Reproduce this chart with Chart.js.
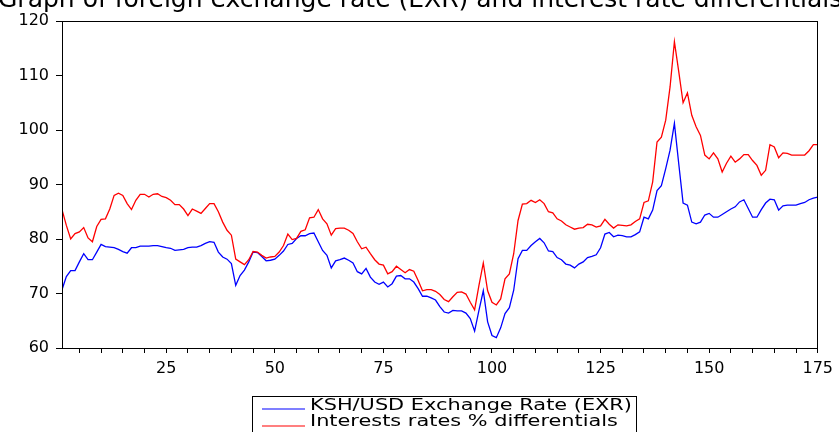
<!DOCTYPE html>
<html>
<head>
<meta charset="utf-8">
<script src="https://cdn.jsdelivr.net/npm/chart.js@4.4.1/dist/chart.umd.min.js"></script>
<style>
  html, body { margin: 0; padding: 0; background: #fff; }
  #exrChart { display: block; }
</style>
</head>
<body>
<canvas id="exrChart" width="839" height="432"></canvas>
<script>
// period index 1..175
const periods = [];
for (let i = 1; i <= 175; i++) periods.push(i);

const seriesNames = ["KSH/USD Exchange Rate (EXR)", "Interests rates % differentials"];
const yTicks = [60, 70, 80, 90, 100, 110, 120];
const xTickLabels = [25, 50, 75, 100, 125, 150, 175];

const exr = [
  70.7, 73.1, 74.2, 74.2, 75.8, 77.3, 76.2, 76.2, 77.6, 79.0,
  78.6, 78.5, 78.4, 78.1, 77.7, 77.4, 78.4, 78.4, 78.7, 78.7,
  78.7, 78.8, 78.8, 78.6, 78.4, 78.3, 77.9, 78.0, 78.1, 78.4,
  78.5, 78.5, 78.8, 79.2, 79.5, 79.4, 77.6, 76.7, 76.3, 75.5,
  71.5, 73.3, 74.3, 75.8, 77.6, 77.5, 76.8, 76.0, 76.1, 76.3,
  77.0, 77.8, 79.0, 79.2, 80.1, 80.6, 80.6, 81.0, 81.1, 79.5,
  77.9, 77.0, 74.7, 76.0, 76.2, 76.5, 76.1, 75.6, 74.0, 73.6,
  74.6, 73.0, 72.1, 71.7, 72.1, 71.2, 71.8, 73.2, 73.3, 72.7,
  72.7, 72.1, 70.9, 69.5, 69.5, 69.2, 68.8, 67.6, 66.6, 66.4,
  66.9, 66.8, 66.8, 66.4, 65.4, 63.1, 66.9, 70.5, 64.8, 62.3,
  61.9, 63.7, 66.3, 67.4, 70.6, 76.4, 77.9, 77.9, 78.8, 79.5,
  80.1, 79.3, 77.8, 77.7, 76.6, 76.2, 75.4, 75.2, 74.7, 75.4,
  75.8, 76.6, 76.8, 77.1, 78.4, 80.9, 81.2, 80.4, 80.7, 80.6,
  80.4, 80.4, 80.8, 81.3, 84.0, 83.7, 85.3, 88.9, 89.8, 92.9,
  96.3, 101.2, 93.8, 86.6, 86.2, 83.1, 82.8, 83.1, 84.4, 84.7,
  84.0, 84.0, 84.5, 85.0, 85.5, 85.9, 86.8, 87.2, 85.6, 84.0,
  84.0, 85.4, 86.6, 87.3, 87.2, 85.3, 86.1, 86.2, 86.2, 86.2,
  86.5, 86.7, 87.2, 87.5, 87.7
];

const rateDiff = [
  85.4, 82.5, 80.0, 81.0, 81.3, 82.1, 80.2, 79.5, 82.3, 83.6,
  83.7, 85.5, 88.0, 88.4, 88.0, 86.5, 85.4, 87.1, 88.2, 88.2,
  87.7, 88.2, 88.3, 87.8, 87.6, 87.1, 86.3, 86.3, 85.5, 84.3,
  85.5, 85.1, 84.7, 85.6, 86.5, 86.5, 85.0, 83.1, 81.6, 80.7,
  76.3, 75.8, 75.3, 76.2, 77.7, 77.6, 77.0, 76.5, 76.7, 76.8,
  77.6, 78.8, 80.9, 79.9, 80.1, 81.4, 81.7, 83.9, 84.0, 85.4,
  83.7, 82.8, 80.7, 81.9, 82.0, 82.0, 81.6, 81.0, 79.5, 78.2,
  78.5, 77.3, 76.2, 75.4, 75.2, 73.6, 74.0, 75.0, 74.4, 73.8,
  74.4, 74.1, 72.4, 70.5, 70.7, 70.7, 70.4, 69.8, 68.9, 68.5,
  69.4, 70.2, 70.3, 69.9, 68.4, 67.0, 71.5, 75.6, 70.5, 68.4,
  67.9, 69.0, 72.7, 73.6, 77.3, 83.4, 86.4, 86.5, 87.1, 86.7,
  87.2, 86.5, 85.0, 84.8, 83.7, 83.3, 82.6, 82.2, 81.8, 82.0,
  82.1, 82.7, 82.6, 82.2, 82.4, 83.6, 82.7, 82.0, 82.6, 82.5,
  82.4, 82.6, 83.2, 83.7, 86.7, 87.0, 90.5, 97.8, 98.7, 101.8,
  107.9, 116.2, 110.7, 105.0, 106.8, 102.7, 100.6, 99.0, 95.4, 94.7,
  95.8, 94.7, 92.3, 93.9, 95.2, 94.1, 94.7, 95.5, 95.5, 94.4,
  93.5, 91.7, 92.6, 97.3, 96.9, 94.9, 95.8, 95.7, 95.4, 95.4,
  95.4, 95.4, 96.2, 97.3, 97.3
];

const tickFont = { family: "DejaVu Sans", size: 16 };

// title is cut off at the top of the picture
const titlePlugin = {
  id: "cutTitle",
  afterDraw(chart) {
    const ctx = chart.ctx;
    ctx.save();
    ctx.fillStyle = "#000";
    ctx.font = "25px 'DejaVu Sans'";
    ctx.textBaseline = "alphabetic";
    ctx.textAlign = "left";
    ctx.fillText("Graph of foreign exchange rate (EXR) and interest rate differentials", -2, 7);
    ctx.restore();
  }
};

// black box round the plot
const framePlugin = {
  id: "frame",
  afterDraw(chart) {
    const a = chart.chartArea;
    const ctx = chart.ctx;
    ctx.save();
    ctx.strokeStyle = "#000";
    ctx.lineWidth = 1;
    ctx.strokeRect(Math.round(a.left) + 0.5, Math.round(a.top) + 0.5,
      Math.round(a.right - a.left) - 1, Math.round(a.bottom - a.top));
    ctx.restore();
  }
};

// boxed legend under the x axis, text stretched wide like the original
const legendPlugin = {
  id: "boxLegend",
  afterDraw(chart) {
    const ctx = chart.ctx;
    const sets = [chart.data.datasets[1], chart.data.datasets[0]];
    ctx.save();
    ctx.strokeStyle = "#000";
    ctx.lineWidth = 1;
    ctx.strokeRect(252.5, 396.5, 384, 50);
    ctx.font = "15px 'DejaVu Sans'";
    ctx.textBaseline = "middle";
    const w = ctx.measureText(sets[0].label).width;
    const sx = 322 / w;
    const rows = [[409, 406.5], [426, 422.5]];
    sets.forEach((ds, i) => {
      ctx.strokeStyle = ds.borderColor;
      ctx.lineWidth = 1.2;
      ctx.beginPath();
      ctx.moveTo(262, rows[i][0]);
      ctx.lineTo(305, rows[i][0]);
      ctx.stroke();
      ctx.save();
      ctx.translate(310, rows[i][1]);
      ctx.scale(sx, 1);
      ctx.fillStyle = "#000";
      ctx.fillText(ds.label, 0, 0);
      ctx.restore();
    });
    ctx.restore();
  }
};

const data = {
  labels: periods,
  datasets: [
    {
      label: seriesNames[1],
      data: rateDiff,
      borderColor: "#ff0000",
      borderWidth: 1.3,
      pointRadius: 0,
      tension: 0,
      order: 0,
    },
    {
      label: seriesNames[0],
      data: exr,
      borderColor: "#0000ff",
      borderWidth: 1.3,
      pointRadius: 0,
      tension: 0,
      order: 1,
    },
  ],
};

const config = {
  type: "line",
  data: data,
  options: {
    responsive: false,
    animation: false,
    devicePixelRatio: 1,
    layout: { padding: { top: 21, right: 17, bottom: 0, left: 0 } },
    plugins: {
      legend: { display: false },
      tooltip: { enabled: false },
      title: { display: false },
    },
    scales: {
      x: {
        type: "linear",
        min: 1,
        max: 175,
        ticks: {
          stepSize: 5,
          includeBounds: false,
          autoSkip: false,
          maxRotation: 0,
          padding: 6,
          color: "#000",
          font: tickFont,
          callback: (v) => (xTickLabels.includes(v) ? String(v) : ""),
        },
        grid: { drawOnChartArea: false, drawTicks: true, tickLength: 5, tickColor: "#000", tickWidth: 1 },
        border: { display: false },
        afterFit: (s) => { s.height = 84; },
      },
      y: {
        min: yTicks[0],
        max: yTicks[yTicks.length - 1],
        afterBuildTicks: (s) => { s.ticks = yTicks.map((v) => ({ value: v })); },
        ticks: { padding: 7, color: "#000", font: tickFont },
        grid: { drawOnChartArea: false, drawTicks: true, tickLength: 6, tickColor: "#000", tickWidth: 1 },
        border: { display: false },
        afterFit: (s) => { s.width = 62; },
      },
    },
  },
  plugins: [framePlugin, titlePlugin, legendPlugin],
};

let myChart = new Chart(document.getElementById("exrChart"), config);
</script>
</body>
</html>
